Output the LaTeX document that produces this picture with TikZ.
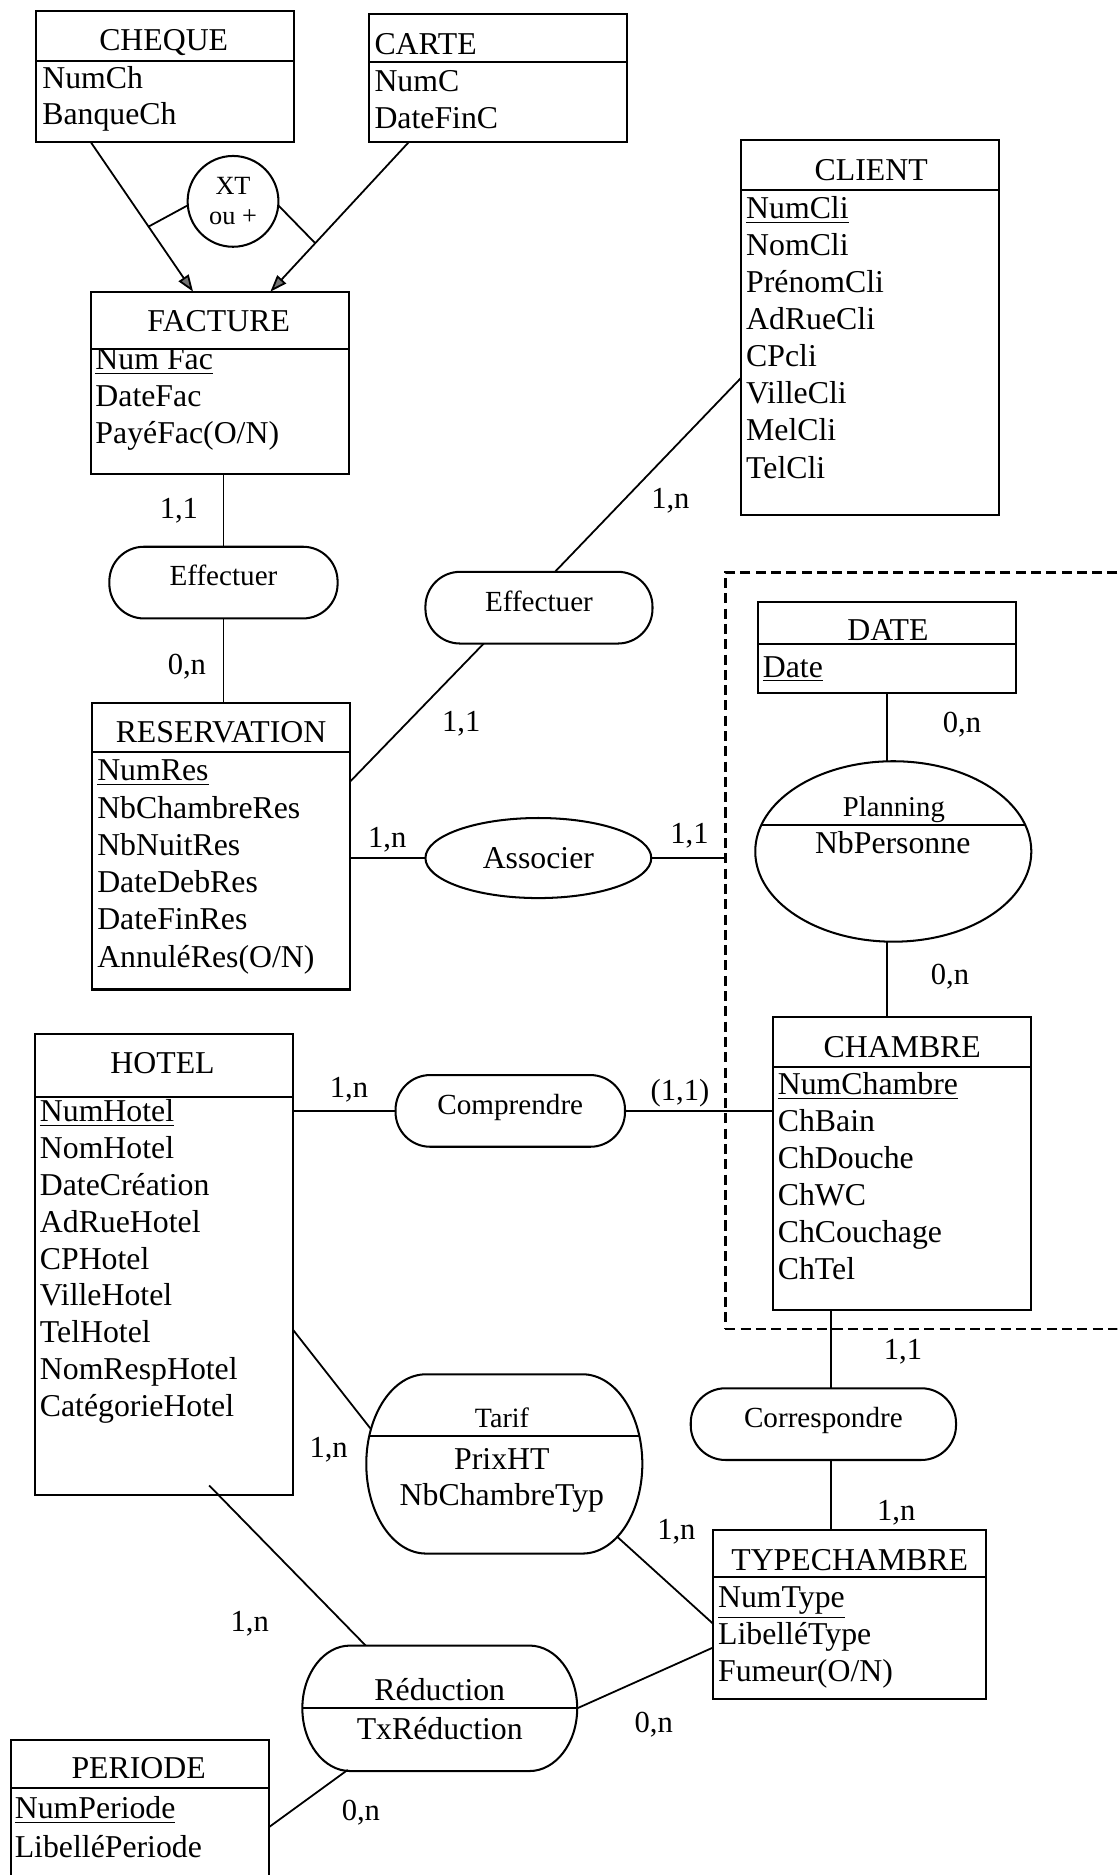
\documentclass[tikz,border=0pt]{standalone}
\usepackage{fontspec}
\setmainfont{Liberation Serif}
\usetikzlibrary{arrows.meta,calc,shapes.geometric}
\newcommand\erentity[6]{%
  \node[box, minimum width={(#4-#2)*0.5pt}, minimum height={(#5-#3)*0.5pt}] (#1) at (#2,#3) {};
  \draw[hline] ($(#1.north west)+(0,#6-#3)$) -- ($(#1.north east)+(0,#6-#3)$);
}
\begin{document}
\begin{tikzpicture}[x=0.5pt,y=-0.5pt,
  box/.style={draw, line width=0.85pt, inner sep=0pt, outer sep=0pt, anchor=north west},
  hline/.style={line width=0.85pt},
  link/.style={line width=0.75pt},
  arr/.style={link, -{Triangle[length=7pt,width=5pt,fill=black!55]}},
  attr/.style={anchor=base west, inner sep=0pt, font=\fontsize{13.3}{16}\selectfont},
  ttl/.style={anchor=base, inner sep=0pt, font=\fontsize{13.3}{16}\selectfont},
  card/.style={anchor=base, inner sep=0pt, font=\fontsize{12.8}{15}\selectfont},
  stadium/.style={draw, line width=0.85pt, rectangle, rounded corners=14.5pt, inner sep=0pt, outer sep=0pt, minimum height=30pt, text height=0.68em, text depth=0.4em, font=\fontsize{12.2}{14}\selectfont},
]
\useasboundingbox (0,0) rectangle (935,1569);
\clip (0,0) rectangle (935,1569);

% ---------- entities ----------
\erentity{cheque}{30}{9}{246}{119}{51}
\node[ttl] (cheque-t) at (137,42) {CHEQUE};
\foreach \t [count=\i from 0] in {NumCh,BanqueCh}
  \node[attr] (cheque-a\i) at (35,74+30.5*\i) {\t};

\erentity{carte}{309}{12}{525}{119}{52}
\node[attr] (carte-t) at (313,46) {CARTE};
\foreach \t [count=\i from 0] in {NumC,DateFinC}
  \node[attr] (carte-a\i) at (313,76.8+30.7*\i) {\t};

\erentity{facture}{76}{244}{292}{397}{292}
\node[ttl] (facture-t) at (183,277.5) {FACTURE};
\foreach \t [count=\i from 0] in {\underline{Num Fac},DateFac,PayéFac(O/N)}
  \node[attr] (facture-a\i) at (79.5,309.5+30.7*\i) {\t};

\erentity{client}{620}{117}{836}{431}{159}
\node[ttl] (client-t) at (729,150.7) {CLIENT};
\foreach \t [count=\i from 0] in {\underline{NumCli},NomCli,PrénomCli,AdRueCli,CPcli,VilleCli,MelCli,TelCli}
  \node[attr] (client-a\i) at (624,182.7+31.05*\i) {\t};

\erentity{reservation}{77}{588}{293}{828}{629}
\node[ttl] (reservation-t) at (185,621.5) {RESERVATION};
\foreach \t [count=\i from 0] in {\underline{NumRes},NbChambreRes,NbNuitRes,DateDebRes,DateFinRes,AnnuléRes(O/N)}
  \node[attr] (reservation-a\i) at (81,653.3+31.2*\i) {\t};

\erentity{hotel}{29}{865}{245}{1251}{918}
\node[ttl] (hotel-t) at (136,898.5) {HOTEL};
\foreach \t [count=\i from 0] in {\underline{NumHotel},NomHotel,DateCréation,AdRueHotel,CPHotel,VilleHotel,TelHotel,NomRespHotel,CatégorieHotel}
  \node[attr] (hotel-a\i) at (33,938.8+30.8*\i) {\t};

\erentity{typechambre}{597}{1280}{825}{1422}{1320}
\node[ttl] (typechambre-t) at (711,1314.5) {TYPECHAMBRE};
\foreach \t [count=\i from 0] in {\underline{NumType},LibelléType,Fumeur(O/N)}
  \node[attr] (typechambre-a\i) at (600.5,1345.1+30.9*\i) {\t};

\erentity{periode}{9}{1456}{225}{1620}{1496}
\node[ttl] (periode-t) at (116,1488.5) {PERIODE};
\foreach \t [count=\i from 0] in {\underline{NumPeriode},LibelléPeriode}
  \node[attr] (periode-a\i) at (12,1522+32*\i) {\t};

\erentity{date}{634}{504}{850}{580}{539}
\node[ttl] (date-t) at (743,536) {DATE};
\node[attr] (date-a0) at (638,566.7) {\underline{Date}};

\erentity{chambre}{647}{851}{863}{1096}{893}
\node[ttl] (chambre-t) at (755,884.5) {CHAMBRE};
\foreach \t [count=\i from 0] in {\underline{NumChambre},ChBain,ChDouche,ChWC,ChCouchage,ChTel}
  \node[attr] (chambre-a\i) at (650.5,915.8+30.9*\i) {\t};

% ---------- aggregate (dashed) ----------
\node[draw, line width=1pt, dash pattern=on 4.2pt off 2.2pt, inner sep=0pt, outer sep=0pt, anchor=north west, minimum width=176.5pt, minimum height=316.65pt] (agg) at (607,479) {};

% ---------- relations ----------
\node[draw, circle, line width=0.85pt, minimum size=38pt, inner sep=0pt, outer sep=0pt, align=center, font=\fontsize{11}{12.5}\selectfont] (xt) at (195,168.5) {XT\\ou +};
\node[stadium, minimum width=95.5pt] (eff1) at (187,487.5) {Effectuer};
\node[stadium, minimum width=95pt] (eff2) at (451,508.5) {Effectuer};
\node[draw, ellipse, line width=0.85pt, minimum width=94.5pt, minimum height=33.5pt, inner sep=0pt, outer sep=0pt, font=\fontsize{13.3}{16}\selectfont] (assoc) at (450.5,718) {Associer};
\node[stadium, minimum width=96pt] (comp) at (427,929.6) {Comprendre};
\node[stadium, minimum width=111pt] (corr) at (689,1191.7) {Correspondre};

\node[draw, ellipse, line width=0.85pt, minimum width=115.5pt, minimum height=75.5pt, inner sep=0pt, outer sep=0pt] (planning) at (747.5,712.5) {};
\draw[hline] ($(planning.center)+(-110.4,-22.5)$) -- ($(planning.center)+(110.4,-22.5)$);
\node[anchor=base, inner sep=0pt, font=\fontsize{12}{14}\selectfont] (planning-t) at (748,683) {Planning};
\node[ttl] (planning-a0) at (747,714.5) {NbPersonne};

\node[inner sep=0pt, outer sep=0pt, minimum width=115.5pt, minimum height=75pt] (tarif) at (422,1225) {};
\draw[hline] ($(tarif.north west)+(50,0)$) -- ($(tarif.north east)+(-50,0)$)
  arc[start angle=90,end angle=-90,x radius=25pt,y radius=37.5pt]
  -- ($(tarif.south west)+(50,0)$)
  arc[start angle=270,end angle=90,x radius=25pt,y radius=37.5pt] -- cycle;
\draw[hline] ($(tarif.west)+(2.4,-23)$) -- ($(tarif.east)+(-2.4,-23)$);
\node[anchor=base, inner sep=0pt, font=\fontsize{11.7}{14}\selectfont] (tarif-t) at (420,1194.5) {Tarif};
\node[ttl] (tarif-a0) at (420,1229.5) {PrixHT};
\node[ttl] (tarif-a1) at (420,1260) {NbChambreTyp};

\node[inner sep=0pt, outer sep=0pt, minimum width=115pt, minimum height=52.5pt] (reduc) at (368,1429.5) {};
\draw[hline] ($(reduc.north west)+(40,0)$) -- ($(reduc.north east)+(-40,0)$)
  arc[start angle=90,end angle=-90,x radius=20pt,y radius=26.25pt]
  -- ($(reduc.south west)+(40,0)$)
  arc[start angle=270,end angle=90,x radius=20pt,y radius=26.25pt] -- cycle;
\draw[hline] (reduc.west) -- (reduc.east);
\node[ttl] (reduc-t) at (368,1423.2) {Réduction};
\node[ttl] (reduc-a0) at (368,1455.3) {TxRéduction};

% ---------- connectors ----------
\coordinate (l1s) at ($(cheque.south west)+(46,0)$);
\coordinate (l1e) at ($(facture.north west)+(85.5,0)$);
\coordinate (l2s) at ($(carte.south west)+(33,0)$);
\coordinate (l2e) at ($(facture.north west)+(150.3,0)$);
\draw[arr] (l1s) -- (l1e);
\draw[arr] (l2s) -- (l2e);
\draw[link] (xt.185) -- ($(l1s)!0.565!(l1e)$);
\draw[link] (xt.355) -- ($(l2s)!0.676!(l2e)$);

\draw[link] (eff1.north) -- (eff1.north |- facture.south);
\draw[link] (eff1.south) -- (eff1.south |- reservation.north);
\draw[link] ($(eff2.north)+(13.4,0)$) -- ($(client.north west)+(0,199.3)$);
\draw[link] ($(eff2.south)+(-46.2,0)$) -- ($(reservation.north east)+(0,66)$);
\draw[link] (assoc.west) -- (assoc.west -| reservation.east);
\draw[link] (assoc.east) -- (assoc.east -| agg.west);
\draw[link] (date.south) -- (date.south |- planning.north);
\draw[link] (date.south |- planning.south) -- (date.south |- chambre.north);
\draw[link] (comp.west) -- (comp.west -| hotel.east);
\draw[link] (comp.east) -- (comp.east -| chambre.west);
\coordinate (cs) at ($(chambre.south west)+(48.5,0)$);
\draw[link] (cs) -- (cs |- corr.north);
\draw[link] (cs |- corr.south) -- (cs |- typechambre.north);
\draw[link] ($(hotel.north east)+(0,247.5)$) -- ($(tarif.north west)+(4,46)$);
\draw[link] ($(tarif.north west)+(210,136)$) -- ($(typechambre.north west)+(0,79)$);
\draw[link] ($(hotel.south west)+(146,-8)$) -- ($(reduc.north west)+(53,0)$);
\draw[link] (reduc.east) -- ($(typechambre.north west)+(0,98.5)$);
\draw[link] ($(periode.north east)+(0,73)$) -- ($(reduc.south west)+(38,-1)$);

% ---------- cardinalities ----------
\node[card] (k1) at (149.7,433.5) {1,1};
\node[card] (k2) at (156.4,564.5) {0,n};
\node[card] (k3) at (561,425.2) {1,n};
\node[card] (k4) at (386,612) {1,1};
\node[card] (k5) at (324,709.5) {1,n};
\node[card] (k6) at (577,705.5) {1,1};
\node[card] (k7) at (805,612.7) {0,n};
\node[card] (k8) at (795,823.9) {0,n};
\node[card] (k9) at (292,918) {1,n};
\node[card] (k10) at (569,920.5) {(1,1)};
\node[card] (k11) at (755.6,1137.5) {1,1};
\node[card] (k12) at (750,1272.5) {1,n};
\node[card] (k13) at (275,1220) {1,n};
\node[card] (k14) at (566,1288) {1,n};
\node[card] (k15) at (209,1365.5) {1,n};
\node[card] (k16) at (547,1449.5) {0,n};
\node[card] (k17) at (302,1523.5) {0,n};
\end{tikzpicture}
\end{document}
